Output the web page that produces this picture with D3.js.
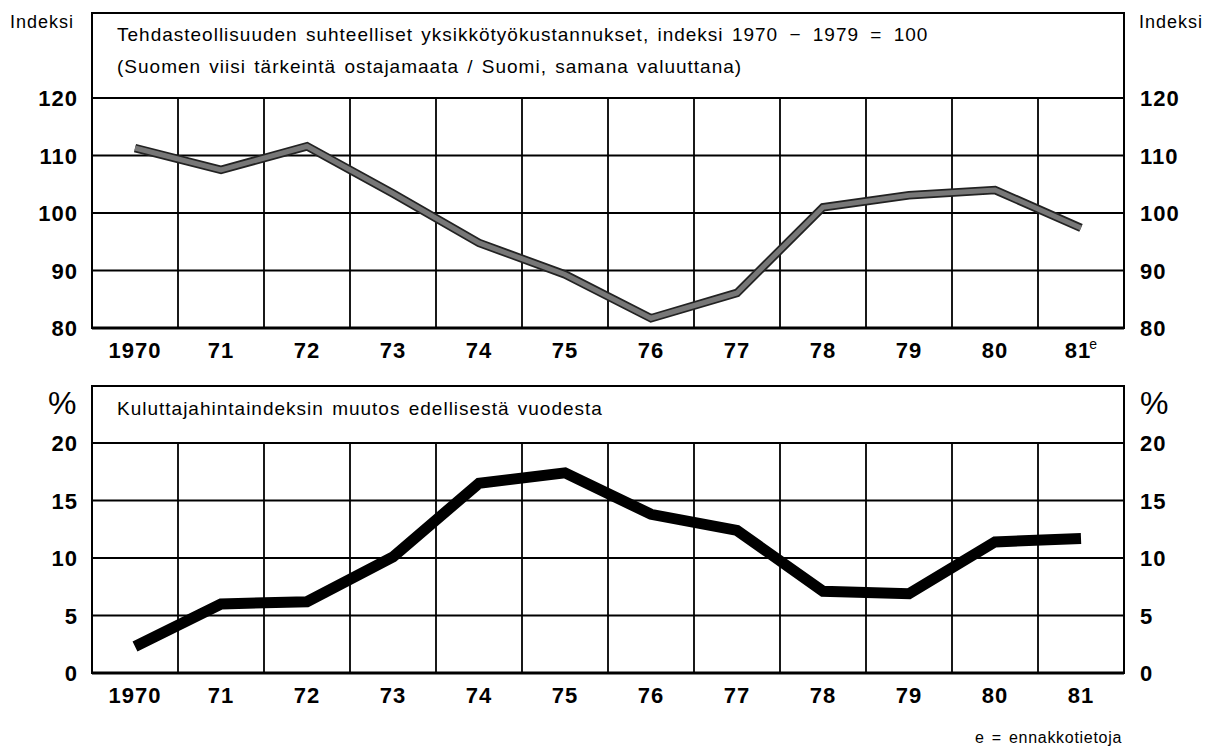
<!DOCTYPE html>
<html>
<head>
<meta charset="utf-8">
<script src="https://cdn.jsdelivr.net/npm/d3@7"></script>
<style>
  body { margin: 0; background: #fff; }
  svg { font-family: "Liberation Sans", Arial, sans-serif; }
</style>
</head>
<body>
<div id="chart"></div>
<script>
// data
var years = ['1970', '71', '72', '73', '74', '75', '76', '77', '78', '79', '80', '81'];
var costIndex = [111.3, 107.5, 111.6, 103.4, 94.8, 89.3, 81.7, 86.1, 101.0, 103.1, 104.0, 97.4];
var cpiChange = [2.3, 6.0, 6.2, 10.1, 16.5, 17.4, 13.8, 12.4, 7.1, 6.9, 11.4, 11.7];
var costTicks = [80, 90, 100, 110, 120];
var cpiTicks = [0, 5, 10, 15, 20];

var width = 1206, height = 748;
var left = 92, right = 1124;

var svg = d3.select('#chart').append('svg')
    .attr('width', width)
    .attr('height', height);

var x = d3.scaleBand().domain(years).range([left, right]).padding(0);
var cx = function(d, i) { return x(years[i]) + x.bandwidth() / 2; };

function label(sel, size) {
    return sel.style('font-size', size + 'px')
        .style('letter-spacing', '1px')
        .style('word-spacing', '2px');
}

function panel(cfg) {
    var y = d3.scaleLinear().domain(cfg.domain).range([cfg.bottom, cfg.gridTop]);
    var g = svg.append('g');

    // horizontal grid
    g.selectAll('.hgrid').data(cfg.ticks).enter().append('line')
        .attr('x1', left).attr('x2', right)
        .attr('y1', function(d) { return y(d); })
        .attr('y2', function(d) { return y(d); })
        .style('stroke', '#000').style('stroke-width', 1.8);

    // vertical grid at column boundaries
    var bounds = years.slice(1).map(function(d) { return x(d); });
    g.selectAll('.vgrid').data(bounds).enter().append('line')
        .attr('x1', function(d) { return d; })
        .attr('x2', function(d) { return d; })
        .attr('y1', cfg.gridTop).attr('y2', cfg.bottom)
        .style('stroke', '#000').style('stroke-width', 1.8);

    // frame
    g.append('rect')
        .attr('x', left).attr('y', cfg.frameTop)
        .attr('width', right - left).attr('height', cfg.bottom - cfg.frameTop)
        .style('fill', 'none').style('stroke', '#000').style('stroke-width', 2);
    g.append('line')
        .attr('x1', left).attr('x2', right)
        .attr('y1', cfg.bottom).attr('y2', cfg.bottom)
        .style('stroke', '#000').style('stroke-width', 3);

    // y labels, both sides
    g.selectAll('.yl').data(cfg.ticks).enter().append('text')
        .attr('x', 78).attr('y', function(d) { return y(d) + 8; })
        .attr('text-anchor', 'end')
        .style('font-size', '22px').style('font-weight', 'bold')
        .style('letter-spacing', '1px')
        .text(function(d) { return d; });
    g.selectAll('.yr').data(cfg.ticks).enter().append('text')
        .attr('x', 1140).attr('y', function(d) { return y(d) + 8; })
        .style('font-size', '22px').style('font-weight', 'bold')
        .style('letter-spacing', '1px')
        .text(function(d) { return d; });

    // x labels
    var xl = g.selectAll('.xl').data(years).enter().append('text')
        .attr('x', function(d) { return x(d) + x.bandwidth() / 2; })
        .attr('y', cfg.bottom + 30)
        .attr('text-anchor', 'middle')
        .style('font-size', '22px').style('font-weight', 'bold')
        .style('letter-spacing', '1px')
        .text(function(d) { return d; });
    if (cfg.lastSup) {
        xl.filter(function(d, i) { return i === years.length - 1; })
            .append('tspan')
            .attr('dy', -9)
            .attr('dx', -2)
            .style('font-size', '14px').style('font-weight', 'normal')
            .style('letter-spacing', '0px')
            .text('e');
    }

    var line = d3.line()
        .x(cx)
        .y(function(d) { return y(d); });

    return { g: g, line: line, y: y };
}

// top panel
var topPanel = panel({ domain: [80, 120], ticks: costTicks, frameTop: 13, gridTop: 98, bottom: 328, lastSup: true });
topPanel.g.append('path').datum(costIndex)
    .attr('d', topPanel.line)
    .style('fill', 'none').style('stroke', '#222').style('stroke-width', 8.5)
    .style('stroke-linejoin', 'miter');
topPanel.g.append('path').datum(costIndex)
    .attr('d', topPanel.line)
    .style('fill', 'none').style('stroke', '#777').style('stroke-width', 5)
    .style('stroke-linejoin', 'miter');

label(svg.append('text').attr('x', 10).attr('y', 28), 18).text('Indeksi');
label(svg.append('text').attr('x', 1139).attr('y', 28), 18).text('Indeksi');
var title1 = label(svg.append('text').attr('x', 117).attr('y', 41), 19);
title1.append('tspan').text('Tehdasteollisuuden suhteelliset yksikkötyökustannukset, indeksi ');
title1.append('tspan').style('word-spacing', '5px').text('1970 − 1979 = 100');
label(svg.append('text').attr('x', 117).attr('y', 73), 19)
    .text('(Suomen viisi tärkeintä ostajamaata / Suomi, samana valuuttana)');

// bottom panel
var botPanel = panel({ domain: [0, 20], ticks: cpiTicks, frameTop: 386, gridTop: 443, bottom: 673, lastSup: false });
botPanel.g.append('path').datum(cpiChange)
    .attr('d', botPanel.line)
    .style('fill', 'none').style('stroke', '#000').style('stroke-width', 11)
    .style('stroke-linejoin', 'miter');

svg.append('text').attr('x', 48).attr('y', 414)
    .style('font-size', '32px').text('%');
svg.append('text').attr('x', 1140).attr('y', 414)
    .style('font-size', '32px').text('%');
label(svg.append('text').attr('x', 117).attr('y', 415), 19)
    .text('Kuluttajahintaindeksin muutos edellisestä vuodesta');

svg.append('text').attr('x', 1122).attr('y', 743)
    .attr('text-anchor', 'end')
    .style('font-size', '16px').style('letter-spacing', '0.7px').style('word-spacing', '2px')
    .text('e = ennakkotietoja');
</script>
</body>
</html>
